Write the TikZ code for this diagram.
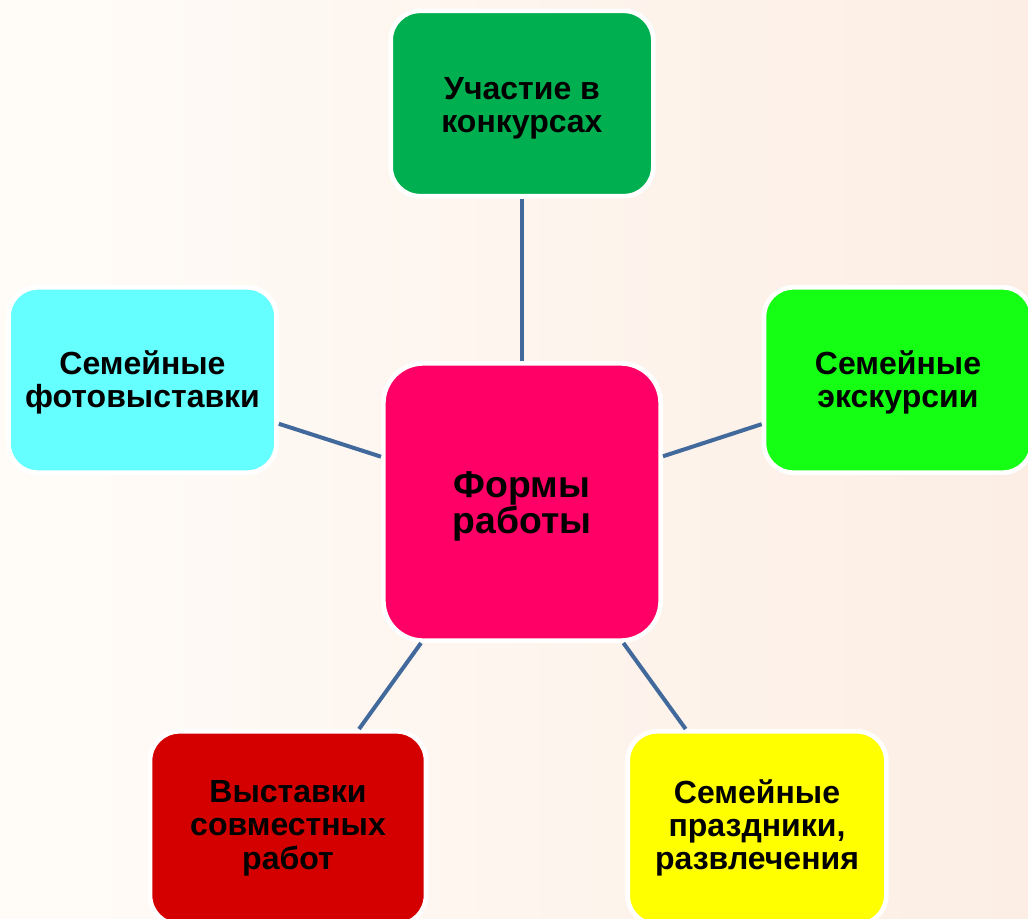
\documentclass[tikz,border=0pt]{standalone}
\usepackage{fontspec}
\setmainfont{Liberation Sans}
\definecolor{bgA}{HTML}{FFFCF8}
\definecolor{bgB}{HTML}{FCEEE4}
\definecolor{linkblue}{HTML}{41699B}
\definecolor{cPink}{HTML}{FF0066}
\definecolor{cTop}{HTML}{00B050}
\definecolor{cCyan}{HTML}{66FFFF}
\definecolor{cLime}{HTML}{14FF14}
\definecolor{cRed}{HTML}{D40000}
\definecolor{cYellow}{HTML}{FFFF00}
\begin{document}
\begin{tikzpicture}[x=0.75pt,y=-0.75pt,
  box/.style={draw=white, line width=3.5pt, rounded corners=22pt, align=center,
    font=\bfseries\fontsize{24}{25}\selectfont, text=black, inner sep=0pt},
  hub/.style={box, rounded corners=30pt, font=\bfseries\fontsize{28}{27}\selectfont},
  link/.style={draw=linkblue, line width=3pt}]
\useasboundingbox (0,0) rectangle (1028,918);
\clip (0,0) rectangle (1028,918);
\shade[left color=bgA, right color=bgB] (0,0) rectangle (1028,918);
\node[hub, fill=cPink, minimum width=208pt, minimum height=208pt] (c) at (522,502) {\rule{0pt}{26.5pt}Формы\\работы};
\node[box, fill=cTop, minimum width=197pt, minimum height=139pt] (t) at (522,103.5) {\rule{0pt}{23.5pt}Участие в\\конкурсах};
\node[box, fill=cCyan, minimum width=201pt, minimum height=139pt] (l) at (142.5,380) {\rule{0pt}{21pt}Семейные\\фотовыставки};
\node[box, fill=cLime, minimum width=201pt, minimum height=139pt] (r) at (898,380) {\rule{0pt}{21pt}Семейные\\экскурсии};
\node[box, fill=cRed, minimum width=207pt, minimum height=145pt] (bl) at (288,828) {Выставки\\совместных\\работ};
\node[box, fill=cYellow, minimum width=194pt, minimum height=145pt] (br) at (757,828) {Семейные\\праздники,\\развлечения};
\draw[link] (c) -- (t);
\draw[link] (c) -- (l);
\draw[link] (c) -- (r);
\draw[link] (c) -- (bl);
\draw[link] (c) -- (br);
\end{tikzpicture}
\end{document}
